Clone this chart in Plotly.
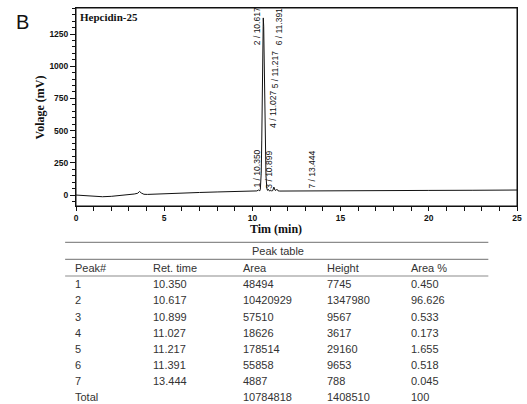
import plotly.graph_objects as go

# ---------------- data ----------------
# chromatogram trace (time in min, signal in mV)
trace_time = [0.0, 0.5, 1.0, 1.5, 2.0, 2.5, 3.0, 3.3, 3.5, 3.6, 3.7, 3.85, 4.05,
              4.5, 5.0, 6.0, 7.0, 8.0, 9.0, 10.0, 10.25, 10.35, 10.42,
              10.45, 10.50, 10.53, 10.56, 10.59, 10.617, 10.64, 10.67, 10.70,
              10.73, 10.77, 10.82, 10.86, 10.899, 10.94, 10.98, 11.027, 11.08,
              11.15, 11.217, 11.28, 11.33, 11.391, 11.45, 11.55, 12.0, 13.0,
              13.444, 13.6, 15.0, 17.5, 20.0, 22.5, 25.0]
trace_mv = [0, -6, -12, -13, -10, -4, 3, 8, 14, 28, 16, 6, 5,
            8, 11, 16, 20, 24, 28, 31, 32, 39, 33,
            45, 170, 420, 810, 1225, 1375, 1310, 1040, 690,
            400, 150, 50, 36, 45, 32, 30, 38, 33,
            34, 62, 38, 36, 45, 33, 31, 31, 32,
            33, 32, 33, 35, 36, 37, 39]

# peak table
peak_no = [1, 2, 3, 4, 5, 6, 7]
ret_time = [10.350, 10.617, 10.899, 11.027, 11.217, 11.391, 13.444]
peak_area = [48494, 10420929, 57510, 18626, 178514, 55858, 4887]
peak_height = [7745, 1347980, 9567, 3617, 29160, 9653, 788]
area_pct = [0.450, 96.626, 0.533, 0.173, 1.655, 0.518, 0.045]
total_area = 10784818
total_height = 1408510
total_pct = "100"
table_headers = ["Peak#", "Ret. time", "Area", "Height", "Area %"]

x_ticks = [0, 5, 10, 15, 20, 25]
y_ticks = [0, 250, 500, 750, 1000, 1250]

# ---------------- layout helpers (positions / styles) ----------------
W, H = 527, 404
L, R, T, B = 76, 5, 8, 198
PW, PH = W - L - R, H - T - B


def px2paper_x(px):
    return (px - L) / PW


def px2paper_y(py):
    return (H - B - py) / PH


# label placement of peak markers (bottom in data units, horizontal nudge in px)
label_bottom = [40, 1150, 36, 506, 816, 1150, 36]
label_shift = [-2, -6, 1, 3, 2, 2, -1]

fig = go.Figure()
fig.add_trace(go.Scatter(x=trace_time, y=trace_mv, mode="lines",
                         line=dict(color="#111111", width=1),
                         hoverinfo="skip", showlegend=False))

annotations = []
for n, rt, yb, sh in zip(peak_no, ret_time, label_bottom, label_shift):
    annotations.append(dict(x=rt, y=yb, xref="x", yref="y",
                            text=f"{n} / {rt:.3f}", textangle=-90,
                            showarrow=False, xanchor="center", yanchor="bottom",
                            xshift=sh,
                            font=dict(family="Liberation Sans, Arial", size=8.5,
                                      color="#111111")))

# axis titles / labels
serif = "Liberation Serif, Times New Roman, serif"
annotations.append(dict(x=px2paper_x(278), y=px2paper_y(229), xref="paper", yref="paper",
                        xanchor="center", yanchor="middle",
                        text="<b>Tim (min)</b>", showarrow=False,
                        font=dict(family=serif, size=12, color="#111111")))
annotations.append(dict(x=px2paper_x(40), y=0.5, xref="paper", yref="paper",
                        xanchor="center", yanchor="middle",
                        text="<b>Volage (mV)</b>", showarrow=False, textangle=-90,
                        font=dict(family=serif, size=12, color="#111111")))
annotations.append(dict(x=px2paper_x(78), y=px2paper_y(16.5), xref="paper", yref="paper",
                        xanchor="left", yanchor="middle",
                        text="<b>Hepcidin-25</b>", showarrow=False,
                        font=dict(family=serif, size=11, color="#111111")))
annotations.append(dict(x=px2paper_x(21.5), y=px2paper_y(22), xref="paper", yref="paper",
                        xanchor="center", yanchor="middle",
                        text="B", showarrow=False,
                        font=dict(family="Liberation Sans, Arial", size=20,
                                  color="#111111")))

# ---------------- peak table ----------------
tfont = dict(family="Liberation Sans, Arial", size=11, color="#333333")
col_x = [72.7, 151.7, 242.7, 328.3, 412.7]
annotations.append(dict(x=px2paper_x(280), y=px2paper_y(251), xref="paper", yref="paper",
                        xanchor="center", yanchor="middle",
                        text="Peak table", showarrow=False, font=tfont))
for cx, h in zip(col_x, table_headers):
    annotations.append(dict(x=px2paper_x(cx), y=px2paper_y(268), xref="paper", yref="paper",
                            xanchor="left", yanchor="middle",
                            text=h, showarrow=False, font=tfont))

rows = [[str(n), f"{rt:.3f}", str(a), str(h), f"{p:.3f}"]
        for n, rt, a, h, p in zip(peak_no, ret_time, peak_area, peak_height, area_pct)]
rows.append(["Total", "", str(total_area), str(total_height), total_pct])
row_y0, row_dy = 284.3, 16.15
for i, row in enumerate(rows):
    for cx, cell in zip(col_x, row):
        if cell == "":
            continue
        annotations.append(dict(x=px2paper_x(cx), y=px2paper_y(row_y0 + i * row_dy),
                                xref="paper", yref="paper",
                                xanchor="left", yanchor="middle",
                                text=cell, showarrow=False, font=tfont))

shapes = []
for ly in [242.3, 259.3, 276.0]:
    shapes.append(dict(type="line", xref="paper", yref="paper",
                       x0=px2paper_x(65), x1=px2paper_x(493),
                       y0=px2paper_y(ly), y1=px2paper_y(ly),
                       line=dict(color="#8c8c8c", width=1.2)))
# plot frame
shapes.append(dict(type="rect", xref="paper", yref="paper", x0=0, x1=1, y0=0, y1=1,
                   line=dict(color="#111111", width=1), layer="above"))

tickfont = dict(family="Liberation Sans, Arial", size=8.5, color="#111111",
                weight="bold")
fig.update_layout(
    width=W, height=H, autosize=False,
    margin=dict(l=L, r=R, t=T, b=B, pad=0),
    plot_bgcolor="white", paper_bgcolor="white",
    showlegend=False,
    hovermode=False,
    annotations=annotations,
    shapes=shapes,
    xaxis=dict(range=[0, 25], tickvals=x_ticks, ticks="outside", ticklen=4,
               tickcolor="#111111", tickwidth=1,
               minor=dict(dtick=1, ticks="outside", ticklen=4, tickcolor="#111111"),
               showline=True, linecolor="#111111", linewidth=1, mirror=True,
               showgrid=False, zeroline=False, tickfont=tickfont),
    yaxis=dict(range=[-85, 1452], tickvals=y_ticks, ticks="outside", ticklen=5,
               tickcolor="#111111", tickwidth=1,
               minor=dict(dtick=50, tick0=0, ticks="outside", ticklen=3,
                          tickcolor="#111111"),
               showline=True, linecolor="#111111", linewidth=1, mirror=True,
               showgrid=False, zeroline=False, tickfont=tickfont),
)

assert len(trace_time) == len(trace_mv)
fig.write_html("out.html",
               config={"displayModeBar": False, "staticPlot": True},
               post_script="document.body.style.margin='0';"
                           "document.body.style.overflow='hidden';")
